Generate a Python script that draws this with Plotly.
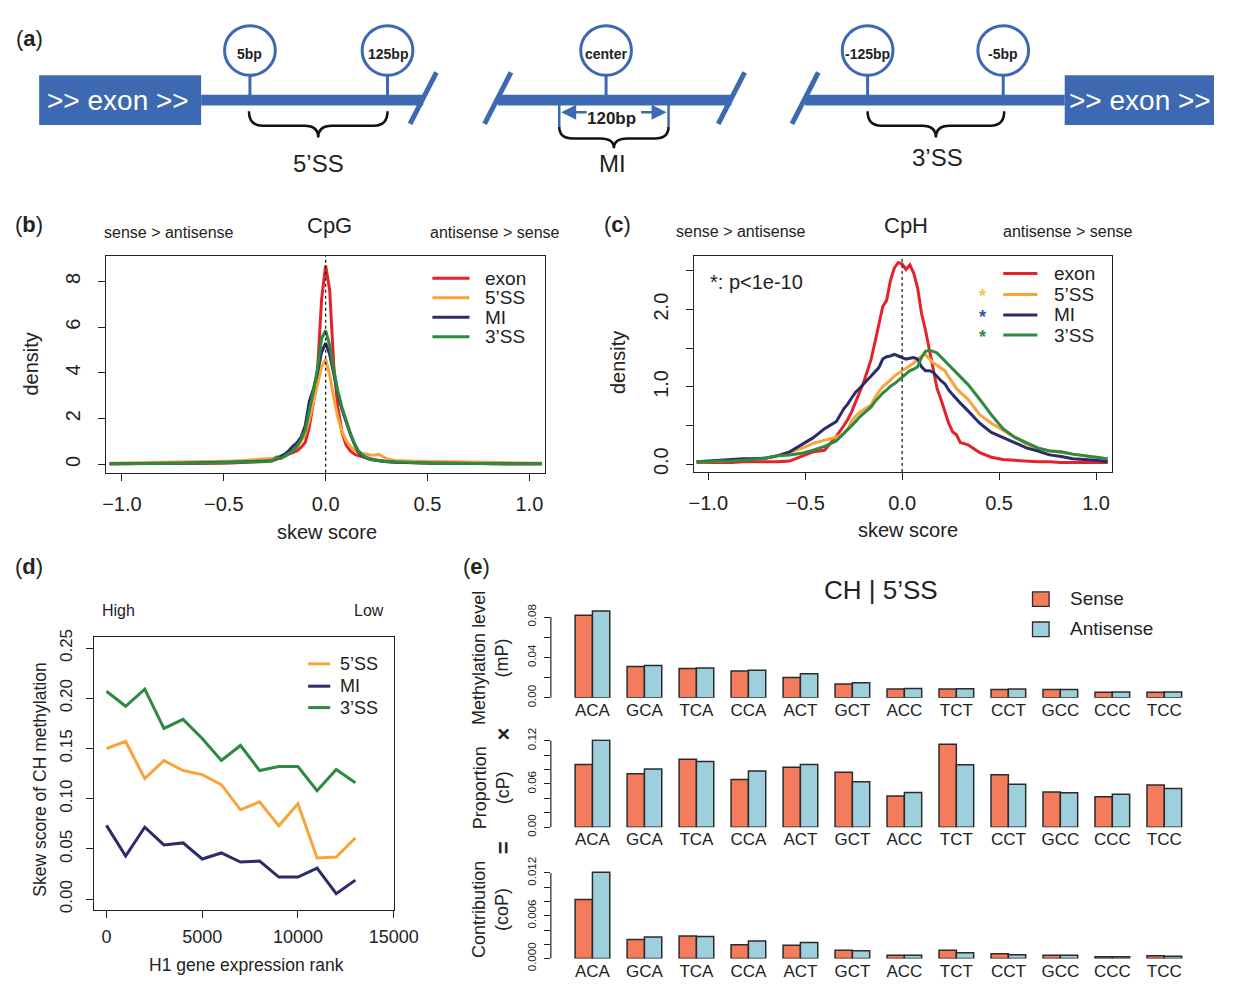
import plotly.graph_objects as go

W, H = 1239, 992
def X(px): return px / W
def Y(py): return 1 - py / H

FONT = "Liberation Sans, Arial, Helvetica, sans-serif"
INK = "#222222"
BLUE = "#3C69B2"
SENSE_C = "#F47C5C"
ANTI_C = "#9DCFDD"

# ---------------- data ----------------
series_names = ["exon", "5\u2019SS", "MI", "3\u2019SS"]
series_colors = ["#E3232A", "#F9A33B", "#2B2C6A", "#2E8A3E"]

skew_x = [-1.06, -1.00, -0.94, -0.88, -0.82, -0.76, -0.70, -0.64, -0.58, -0.52, -0.46, -0.40, -0.34,
          -0.30, -0.28, -0.26, -0.24, -0.22, -0.20, -0.18, -0.16, -0.14, -0.12, -0.10, -0.08, -0.06, -0.04, -0.02,
          0.00, 0.02, 0.04, 0.06, 0.08, 0.10, 0.12, 0.14, 0.16, 0.18, 0.20, 0.22, 0.24, 0.26, 0.28, 0.30,
          0.34, 0.40, 0.46, 0.52, 0.58, 0.64, 0.70, 0.76, 0.82, 0.88, 0.94, 1.00, 1.06]

# (b) CpG density
cpg_exon = [0.03, 0.03, 0.02, 0.03, 0.03, 0.04, 0.03, 0.04, 0.05, 0.05, 0.06, 0.08, 0.10,
            0.12, 0.14, 0.17, 0.22, 0.28, 0.35, 0.45, 0.52, 0.60, 0.75, 0.95, 1.65, 2.70, 4.10, 7.20,
            8.70, 7.60, 4.30, 2.50, 1.40, 0.85, 0.60, 0.45, 0.38, 0.33, 0.28, 0.24, 0.20, 0.17, 0.15, 0.13,
            0.10, 0.08, 0.07, 0.06, 0.05, 0.05, 0.04, 0.04, 0.03, 0.03, 0.03, 0.02, 0.02]
cpg_5ss = [0.05, 0.06, 0.05, 0.07, 0.08, 0.07, 0.09, 0.10, 0.11, 0.12, 0.14, 0.17, 0.20,
           0.22, 0.24, 0.27, 0.30, 0.32, 0.38, 0.48, 0.62, 0.78, 1.00, 1.35, 1.95, 2.75, 3.55, 4.25,
           4.60, 3.90, 2.90, 2.05, 1.45, 1.05, 0.80, 0.62, 0.52, 0.47, 0.44, 0.41, 0.40, 0.44, 0.36, 0.25,
           0.17, 0.14, 0.13, 0.12, 0.13, 0.11, 0.10, 0.09, 0.08, 0.08, 0.07, 0.06, 0.05]
cpg_mi = [0.03, 0.04, 0.04, 0.05, 0.04, 0.05, 0.05, 0.06, 0.06, 0.07, 0.08, 0.09, 0.10,
          0.12, 0.14, 0.17, 0.26, 0.35, 0.45, 0.60, 0.80, 0.95, 1.20, 1.70, 2.75, 3.30, 4.00, 4.90,
          5.30, 4.80, 3.90, 3.10, 2.40, 1.85, 1.35, 0.90, 0.55, 0.38, 0.27, 0.21, 0.18, 0.15, 0.13, 0.11,
          0.09, 0.07, 0.06, 0.05, 0.05, 0.04, 0.04, 0.03, 0.03, 0.03, 0.03, 0.02, 0.02]
cpg_3ss = [0.03, 0.03, 0.04, 0.04, 0.05, 0.05, 0.05, 0.06, 0.06, 0.07, 0.08, 0.09, 0.10,
           0.11, 0.12, 0.15, 0.32, 0.25, 0.38, 0.50, 0.60, 0.80, 1.10, 1.50, 2.30, 3.20, 4.20, 5.50,
           5.85, 5.20, 4.10, 3.20, 2.50, 1.90, 1.40, 0.95, 0.60, 0.42, 0.30, 0.22, 0.18, 0.15, 0.13, 0.12,
           0.10, 0.08, 0.07, 0.06, 0.05, 0.05, 0.04, 0.04, 0.03, 0.03, 0.03, 0.03, 0.02]

# (c) CpH density
cph_exon = [0.02, 0.02, 0.02, 0.02, 0.03, 0.03, 0.03, 0.03, 0.04, 0.10, 0.16, 0.18, 0.36,
            0.50, 0.58, 0.68, 0.80, 0.93, 1.05, 1.20, 1.36, 1.58, 1.80, 2.04, 2.12, 2.38, 2.54, 2.61,
            2.59, 2.52, 2.58, 2.47, 2.28, 1.95, 1.74, 1.50, 1.22, 0.98, 0.84, 0.67, 0.53, 0.42, 0.38, 0.28,
            0.25, 0.15, 0.09, 0.06, 0.05, 0.04, 0.03, 0.03, 0.02, 0.02, 0.02, 0.02, 0.02]
cph_5ss = [0.03, 0.03, 0.04, 0.05, 0.06, 0.07, 0.08, 0.11, 0.15, 0.20, 0.27, 0.31, 0.35,
           0.40, 0.46, 0.55, 0.62, 0.67, 0.70, 0.73, 0.77, 0.86, 0.94, 1.00, 1.04, 1.09, 1.14, 1.18,
           1.21, 1.24, 1.27, 1.31, 1.36, 1.40, 1.42, 1.37, 1.31, 1.28, 1.24, 1.21, 1.13, 1.05, 0.98, 0.93,
           0.84, 0.64, 0.53, 0.44, 0.35, 0.26, 0.20, 0.17, 0.15, 0.13, 0.11, 0.09, 0.06]
cph_mi = [0.03, 0.04, 0.05, 0.06, 0.07, 0.07, 0.08, 0.11, 0.16, 0.25, 0.34, 0.46, 0.55,
          0.72, 0.78, 0.86, 0.93, 0.98, 1.04, 1.09, 1.14, 1.19, 1.25, 1.36, 1.39, 1.40, 1.42, 1.40,
          1.38, 1.36, 1.37, 1.38, 1.36, 1.26, 1.21, 1.21, 1.19, 1.13, 1.08, 1.04, 0.96, 0.90, 0.84, 0.79,
          0.69, 0.53, 0.41, 0.35, 0.28, 0.21, 0.17, 0.12, 0.10, 0.07, 0.06, 0.05, 0.03]
cph_3ss = [0.03, 0.03, 0.04, 0.04, 0.05, 0.06, 0.08, 0.11, 0.12, 0.14, 0.18, 0.23, 0.30,
           0.40, 0.44, 0.49, 0.55, 0.61, 0.65, 0.69, 0.74, 0.81, 0.87, 0.92, 0.96, 1.01, 1.04, 1.08,
           1.12, 1.17, 1.21, 1.23, 1.26, 1.38, 1.46, 1.47, 1.46, 1.44, 1.39, 1.34, 1.29, 1.24, 1.19, 1.14,
           1.03, 0.84, 0.64, 0.46, 0.35, 0.28, 0.21, 0.17, 0.16, 0.13, 0.11, 0.09, 0.07]

# (d) skew score vs expression rank
expr_rank = [0, 1000, 2000, 3000, 4000, 5000, 6000, 7000, 8000, 9000, 10000, 11000, 12000, 13000]
skew_5ss = [0.150, 0.157, 0.120, 0.138, 0.128, 0.124, 0.114, 0.089, 0.097, 0.073, 0.095, 0.041, 0.042, 0.061]
skew_mi = [0.0735, 0.043, 0.0716, 0.054, 0.056, 0.040, 0.046, 0.037, 0.038, 0.022, 0.022, 0.031, 0.0055, 0.019]
skew_3ss = [0.207, 0.192, 0.209, 0.170, 0.179, 0.160, 0.138, 0.153, 0.128, 0.132, 0.132, 0.108, 0.129, 0.116]

# (e) CH | 5'SS
motifs = ["ACA", "GCA", "TCA", "CCA", "ACT", "GCT", "ACC", "TCT", "CCT", "GCC", "CCC", "TCC"]
mP_sense = [0.0819, 0.0312, 0.0292, 0.0267, 0.0202, 0.0138, 0.0087, 0.0087, 0.0084, 0.0084, 0.0055, 0.0055]
mP_anti = [0.0861, 0.0321, 0.0296, 0.0273, 0.0238, 0.0151, 0.0093, 0.0090, 0.0087, 0.0084, 0.0058, 0.0058]
cP_sense = [0.0870, 0.0740, 0.0943, 0.0663, 0.0830, 0.0762, 0.0433, 0.1150, 0.0726, 0.0487, 0.0424, 0.0586]
cP_anti = [0.1204, 0.0807, 0.0911, 0.0780, 0.0870, 0.0631, 0.0483, 0.0866, 0.0595, 0.0478, 0.0456, 0.0537]
coP_sense = [0.00829, 0.00267, 0.00317, 0.00195, 0.00186, 0.00118, 0.00045, 0.00118, 0.00068, 0.00045, 0.00027, 0.00041]
coP_anti = [0.01210, 0.00303, 0.00308, 0.00245, 0.00226, 0.00109, 0.00045, 0.00082, 0.00054, 0.00045, 0.00027, 0.00032]

# ---------------- figure ----------------
fig = go.Figure()
shapes = []
ann = []

def txt(text, px, py, size, color=INK, xanchor="center", yanchor="middle", angle=0):
    ann.append(dict(text=text, x=X(px), y=Y(py), xref="paper", yref="paper", showarrow=False,
                    font=dict(family=FONT, size=size, color=color), xanchor=xanchor, yanchor=yanchor,
                    textangle=angle))

def pline(x0, y0, x1, y1, color, width, dash="solid"):
    shapes.append(dict(type="line", xref="paper", yref="paper", x0=X(x0), y0=Y(y0), x1=X(x1), y1=Y(y1),
                       line=dict(color=color, width=width, dash=dash), layer="above"))

def prect(x0, y0, x1, y1, fill, lc=None, lw=0):
    shapes.append(dict(type="rect", xref="paper", yref="paper", x0=X(x0), y0=Y(y1), x1=X(x1), y1=Y(y0),
                       fillcolor=fill, line=dict(color=lc or fill, width=lw), layer="above"))

# density panels
for vals, col in zip([cpg_exon, cpg_5ss, cpg_mi, cpg_3ss], series_colors):
    fig.add_trace(go.Scatter(x=skew_x, y=vals, mode="lines", line=dict(color=col, width=3),
                             xaxis="x", yaxis="y", hoverinfo="skip"))
for vals, col in zip([cph_exon, cph_5ss, cph_mi, cph_3ss], series_colors):
    fig.add_trace(go.Scatter(x=skew_x, y=vals, mode="lines", line=dict(color=col, width=3),
                             xaxis="x2", yaxis="y2", hoverinfo="skip"))
for vals, col in zip([skew_5ss, skew_mi, skew_3ss], series_colors[1:]):
    fig.add_trace(go.Scatter(x=expr_rank, y=vals, mode="lines", line=dict(color=col, width=3),
                             xaxis="x3", yaxis="y3", hoverinfo="skip"))
for k, (s, a) in enumerate([(mP_sense, mP_anti), (cP_sense, cP_anti), (coP_sense, coP_anti)]):
    xa, ya = "x%d" % (k + 4), "y%d" % (k + 4)
    fig.add_trace(go.Bar(x=motifs, y=s, name="Sense", xaxis=xa, yaxis=ya, hoverinfo="skip",
                         marker=dict(color=SENSE_C, line=dict(color="#2b2b2b", width=1.5))))
    fig.add_trace(go.Bar(x=motifs, y=a, name="Antisense", xaxis=xa, yaxis=ya, hoverinfo="skip",
                         marker=dict(color=ANTI_C, line=dict(color="#2b2b2b", width=1.5))))

def axis(**kw):
    d = dict(showgrid=False, zeroline=False, ticks="outside", ticklen=7, tickwidth=1.2, tickcolor=INK,
             linecolor=INK, linewidth=1.2, fixedrange=True,
             tickfont=dict(family=FONT, size=20, color=INK))
    d.update(kw)
    return d

skew_ticks = [-1, -0.5, 0, 0.5, 1]
layout_axes = dict(
    xaxis=axis(domain=[X(103.3), X(553.7)], range=[-1.079, 1.078], tickvals=skew_ticks, tickformat=".1f",
               showline=True, mirror=True, anchor="y", ticklabelstandoff=6),
    yaxis=axis(domain=[Y(471.5), Y(248.3)], range=[-0.365, 9.13], tickvals=[0, 2, 4, 6, 8],
               tickangle=-90, showline=True, mirror=True, anchor="x", ticklabelstandoff=10),
    xaxis2=axis(domain=[X(705.7), X(1134)], range=[-1.0755, 1.08], tickvals=skew_ticks, tickformat=".1f",
                showline=True, mirror=True, anchor="y2", ticklabelstandoff=6),
    yaxis2=axis(domain=[Y(470.7), Y(248.3)], range=[-0.1, 2.70], tickvals=[0, 0.5, 1, 1.5, 2, 2.5],
                ticktext=["0.0", "", "1.0", "", "2.0", ""], tickangle=-90, showline=True, mirror=True,
                anchor="x2", ticklabelstandoff=10),
    xaxis3=axis(domain=[X(91.7), X(398.3)], range=[-627, 15000], tickvals=[0, 5000, 10000, 15000],
                ticktext=["0", "5000", "10000", "15000"], showline=True, mirror=True, anchor="y3",
                tickfont=dict(family=FONT, size=18, color=INK), ticklabelstandoff=4),
    yaxis3=axis(domain=[Y(920.7), Y(640.7)], range=[-0.0104, 0.2607],
                tickvals=[0, 0.05, 0.10, 0.15, 0.20, 0.25],
                ticktext=["0.00", "0.05", "0.10", "0.15", "0.20", "0.25"], tickangle=-90,
                showline=True, mirror=True, anchor="x3", tickfont=dict(family=FONT, size=17, color=INK),
                ticklabelstandoff=8),
)
e_rows = [(703, 611.7, [0, 0.088], [0, 0.02, 0.04, 0.06, 0.08], ["0.00", "", "0.04", "", "0.08"]),
          (836, 745.5, [0, 0.122], [0, 0.02, 0.04, 0.06, 0.08, 0.10, 0.12],
           ["0.00", "", "", "0.06", "", "", "0.12"]),
          (971, 880.8, [0, 0.0123], [0, 0.002, 0.004, 0.006, 0.008, 0.010, 0.012],
           ["0.000", "", "", "0.006", "", "", "0.012"])]
for k, (bot, top, yr, tv, tt) in enumerate(e_rows):
    n = k + 4
    layout_axes["xaxis%d" % n] = axis(domain=[X(559.4), X(1230.7)], range=[-0.8, 11.8], type="category",
                                      categoryorder="array", categoryarray=motifs, ticks="",
                                      showline=False, anchor="y%d" % n,
                                      tickfont=dict(family=FONT, size=17, color=INK))
    layout_axes["yaxis%d" % n] = axis(domain=[Y(bot), Y(top)], range=yr, tickvals=tv, ticktext=tt,
                                      tickangle=-90, showline=False, anchor="x%d" % n, ticklen=6,
                                      tickfont=dict(family=FONT, size=11.5, color=INK), ticklabelstandoff=3)
    shapes.append(dict(type="line", xref="x%d domain" % n, yref="y%d" % n, x0=0, x1=0, y0=tv[0], y1=tv[-1],
                       line=dict(color=INK, width=1.2)))

# dotted zero lines
for xa, ya in [("x", "y"), ("x2", "y2")]:
    shapes.append(dict(type="line", xref=xa, yref=ya + " domain", x0=0, x1=0, y0=0, y1=1,
                       line=dict(color=INK, width=1.3, dash="dot"), layer="above"))

# ---------------- panel (a) diagram ----------------
prect(35, 63, 201, 114, BLUE)
prect(1086, 63, 1239, 114, BLUE)
for x0, x1 in [(201, 428.6), (505, 744.5), (820, 1086)]:
    prect(x0, 83, x1, 94, BLUE)
for xc in [428.6, 505, 744.5, 820]:
    pline(xc - 13.5, 113, xc + 13.5, 60, BLUE, 5)
circles = [(251, "5bp"), (392, "125bp"), (616, "center"), (884, "-125bp"), (1023, "-5bp")]
for xc, lab in circles:
    pline(xc, 62, xc, 84, BLUE, 3)
    shapes.append(dict(type="circle", xref="paper", yref="paper", x0=X(xc - 26), x1=X(xc + 26),
                       y0=Y(63), y1=Y(12), line=dict(color=BLUE, width=3), fillcolor="white", layer="above"))
    txt("<b>%s</b>" % lab, xc, 41, 14)
txt(">> exon >>", 116, 89, 28, color="white")
txt(">> exon >>", 1163, 89, 28, color="white")

def brace(xa, xb, y0, y1):
    xm = (xa + xb) / 2
    yq = y0 + (y1 - y0) * 0.55
    r = 14
    p = (f"M {X(xa)},{Y(y0)} Q {X(xa)},{Y(yq)} {X(xa + r)},{Y(yq)} L {X(xm - r)},{Y(yq)} "
         f"Q {X(xm)},{Y(yq)} {X(xm)},{Y(y1)} Q {X(xm)},{Y(yq)} {X(xm + r)},{Y(yq)} "
         f"L {X(xb - r)},{Y(yq)} Q {X(xb)},{Y(yq)} {X(xb)},{Y(y0)}")
    shapes.append(dict(type="path", xref="paper", yref="paper", path=p,
                       line=dict(color="#111111", width=2.5), layer="above"))

brace(250, 392, 100, 127)
brace(568, 680, 116, 138)
brace(884, 1024, 100, 127)
txt("5\u2019SS", 321, 154, 24)
txt("MI", 623, 154, 24)
txt("3\u2019SS", 956, 148, 24)
pline(568, 93, 568, 116, BLUE, 2.5)
pline(680, 93, 680, 116, BLUE, 2.5)
for hx, dx in [(570, 27), (678, -27)]:
    ann.append(dict(x=X(hx), y=Y(101), xref="paper", yref="paper", ax=dx, ay=0, text="", showarrow=True,
                    arrowhead=2, arrowsize=1.2, arrowwidth=2.5, arrowcolor=BLUE))
txt("<b>120bp</b>", 622, 107, 17)

# ---------------- panel labels & texts ----------------
for lab, px, py in [("a", 25, 25), ("b", 25, 216), ("c", 628, 216), ("d", 25, 568), ("e", 483, 568)]:
    txt("(<b>%s</b>)" % lab, px, py, 22)

txt("sense > antisense", 168, 225, 16)
txt("CpG", 333, 217, 22)
txt("antisense > sense", 502, 225, 16)
txt("density", 27, 360, 20, angle=-90)
txt("skew score", 330, 532, 20)

txt("sense > antisense", 754, 224, 16)
txt("CpH", 923, 217, 22)
txt("antisense > sense", 1089, 224, 16)
txt("density", 628, 358, 20, angle=-90)
txt("skew score", 925, 530, 20)
txt("*: p&lt;1e-10", 720, 276, 20, xanchor="left")

# legends (b), (c)
for i, (nm, col) in enumerate(zip(series_names, series_colors)):
    yb = 271.7 + 20 * i
    pline(438, yb, 476, yb, col, 3)
    txt(nm, 490, yb, 19, xanchor="left")
    yc = [266.7, 288.3, 309.3, 330][i]
    pline(1023, yc, 1058, yc, col, 3)
    txt(nm, 1073, yc, 19, xanchor="left")
for yc, sc in [(288.3, "#F7C24C"), (309.3, "#2456A6"), (330, "#2F8A43")]:
    txt("<b>*</b>", 1002, yc + 2, 18, color=sc)

# panel (d) texts
txt("High", 116, 613, 16)
txt("Low", 373, 613, 16)
txt("Skew score of CH methylation", 35, 787, 17.5, angle=-90)
txt("H1 gene expression rank", 248, 978, 17.5)
for i, (nm, col) in enumerate(zip(series_names[1:], series_colors[1:])):
    yd = [668, 691, 713][i]
    pline(310.7, yd, 333.3, yd, col, 3)
    txt(nm, 341.7, yd, 18, xanchor="left")

# panel (e) texts
txt("CH | 5\u2019SS", 898, 592, 26)
prect(1053, 594, 1070, 609, SENSE_C, "#2b2b2b", 1.3)
prect(1053, 625, 1070, 640, ANTI_C, "#2b2b2b", 1.3)
txt("Sense", 1089, 601, 19, xanchor="left")
txt("Antisense", 1089, 632, 19, xanchor="left")
txt("Methylation level<br>(mP)", 498, 662, 18, angle=-90)
txt("Proportion<br>(cP)", 498, 795, 18, angle=-90)
txt("Contribution<br>(coP)", 498, 920, 18, angle=-90)
txt("<b>\u00d7</b>", 511, 740, 22, angle=-90)
txt("<b>=</b>", 511, 857, 22, angle=-90)

fig.update_layout(width=W, height=H, margin=dict(l=0, r=0, t=0, b=0), paper_bgcolor="white",
                  plot_bgcolor="rgba(0,0,0,0)", showlegend=False, barmode="group", bargap=1/3,
                  bargroupgap=0, font=dict(family=FONT, color=INK), shapes=shapes, annotations=ann,
                  **layout_axes)
fig.write_html("out.html", config={"displayModeBar": False},
               post_script="document.body.style.margin='0';document.body.style.overflow='hidden';")
